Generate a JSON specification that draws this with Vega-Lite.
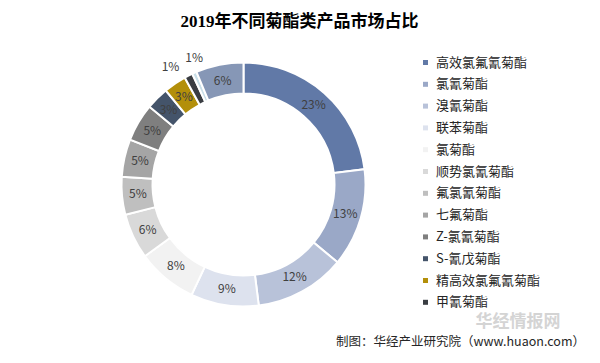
{
  "$schema": "https://vega.github.io/schema/vega-lite/v6.json",
  "width": 600,
  "height": 363,
  "autosize": {"type": "fit", "contains": "padding"},
  "padding": {"left": 5, "top": 5, "right": 6, "bottom": 5},
  "background": "white",
  "config": {"view": {"stroke": "#8c8c8c", "strokeWidth": 1.5}},
  "title": {
    "text": "2019年不同菊酯类产品市场占比",
    "font": "Liberation Serif, Noto Sans CJK SC",
    "fontSize": 17,
    "fontWeight": "bold",
    "color": "#000000",
    "anchor": "middle",
    "offset": -26
  },
  "data": {
    "values": [
      {"idx": 1, "name": "高效氯氟氰菊酯", "share": 0.23},
      {"idx": 2, "name": "氯氰菊酯", "share": 0.13},
      {"idx": 3, "name": "溴氰菊酯", "share": 0.12},
      {"idx": 4, "name": "联苯菊酯", "share": 0.09},
      {"idx": 5, "name": "氯菊酯", "share": 0.08},
      {"idx": 6, "name": "顺势氯氰菊酯", "share": 0.06},
      {"idx": 7, "name": "氟氯氰菊酯", "share": 0.05},
      {"idx": 8, "name": "七氟菊酯", "share": 0.05},
      {"idx": 9, "name": "Z-氯氰菊酯", "share": 0.05},
      {"idx": 10, "name": "S-氰戊菊酯", "share": 0.03},
      {"idx": 11, "name": "精高效氯氟氰菊酯", "share": 0.03},
      {"idx": 12, "name": "甲氰菊酯", "share": 0.011},
      {"idx": 13, "name": "醚菊酯", "share": 0.006},
      {"idx": 14, "name": "其他", "share": 0.063}
    ]
  },
  "layer": [
    {
      "mark": {
        "type": "arc",
        "innerRadius": 91,
        "outerRadius": 122,
        "stroke": "white",
        "strokeWidth": 2,
        "x": {"expr": "width/2-56"},
        "y": {"expr": "height/2+3"}
      },
      "encoding": {
        "theta": {"field": "share", "type": "quantitative", "stack": true, "scale": {"domain": [0, 1]}},
        "order": {"field": "idx", "type": "quantitative"},
        "color": {
          "field": "name",
          "type": "nominal",
          "sort": null,
          "scale": {
            "domain": ["高效氯氟氰菊酯", "氯氰菊酯", "溴氰菊酯", "联苯菊酯", "氯菊酯", "顺势氯氰菊酯", "氟氯氰菊酯", "七氟菊酯", "Z-氯氰菊酯", "S-氰戊菊酯", "精高效氯氟氰菊酯", "甲氰菊酯", "醚菊酯", "其他"],
            "range": ["#6179a7", "#9aa8c7", "#b8c2d9", "#dde2ee", "#f2f2f2", "#d9d9d9", "#bfbfbf", "#a5a5a5", "#7f7f7f", "#44546a", "#b38f0a", "#3a3d42", "#c9dfe8", "#8697b6"]
          },
          "legend": {
            "orient": "none",
            "legendX": 414,
            "legendY": 51,
            "title": null,
            "values": ["高效氯氟氰菊酯", "氯氰菊酯", "溴氰菊酯", "联苯菊酯", "氯菊酯", "顺势氯氰菊酯", "氟氯氰菊酯", "七氟菊酯", "Z-氯氰菊酯", "S-氰戊菊酯", "精高效氯氟氰菊酯", "甲氰菊酯"],
            "symbolType": "square",
            "symbolSize": 25,
            "symbolStrokeWidth": 0,
            "labelFont": "Noto Sans CJK SC",
            "labelFontSize": 13,
            "labelColor": "#262626",
            "labelOffset": 4,
            "rowPadding": 7.8,
            "padding": 0
          }
        }
      }
    },
    {
      "mark": {
        "type": "text",
        "radius": 106,
        "font": "Noto Sans CJK SC",
        "fontSize": 12,
        "color": "#404040",
        "x": {"expr": "width/2-56"},
        "y": {"expr": "height/2+3"}
      },
      "encoding": {
        "theta": {"field": "share", "type": "quantitative", "stack": true, "scale": {"domain": [0, 1]}},
        "order": {"field": "idx", "type": "quantitative"},
        "text": {"condition": {"test": "datum.share >= 0.02", "field": "share", "format": ".0%"}, "value": ""}
      }
    },
    {
      "transform": [
        {"stack": "share", "groupby": [], "sort": [{"field": "idx", "order": "ascending"}], "as": ["s0", "s1"]},
        {"filter": "datum.name === '甲氰菊酯'"}
      ],
      "mark": {
        "type": "text",
        "radius": 139,
        "font": "Noto Sans CJK SC",
        "fontSize": 12,
        "color": "#404040",
        "dx": -6,
        "dy": 4,
        "x": {"expr": "width/2-56"},
        "y": {"expr": "height/2+3"}
      },
      "encoding": {
        "theta": {"field": "s0", "type": "quantitative", "scale": {"domain": [0, 1]}},
        "text": {"field": "share", "format": ".0%"}
      }
    },
    {
      "transform": [
        {"stack": "share", "groupby": [], "sort": [{"field": "idx", "order": "ascending"}], "as": ["s0", "s1"]},
        {"filter": "datum.name === '醚菊酯'"}
      ],
      "mark": {
        "type": "text",
        "radius": 139,
        "font": "Noto Sans CJK SC",
        "fontSize": 12,
        "color": "#404040",
        "dx": 9,
        "dy": 0,
        "x": {"expr": "width/2-56"},
        "y": {"expr": "height/2+3"}
      },
      "encoding": {
        "theta": {"field": "s0", "type": "quantitative", "scale": {"domain": [0, 1]}},
        "text": {"field": "share", "format": ".0%"}
      }
    },
    {
      "data": {"values": [{"t": "华经情报网"}]},
      "mark": {
        "type": "text",
        "font": "Noto Sans CJK SC",
        "fontSize": 17,
        "fontWeight": "bold",
        "color": "#d4d4d4",
        "align": "center",
        "baseline": "middle",
        "x": {"expr": "width-76"},
        "y": {"expr": "height-36"}
      },
      "encoding": {"text": {"field": "t"}}
    },
    {
      "data": {"values": [{"t": "制图：华经产业研究院（www.huaon.com）"}]},
      "mark": {
        "type": "text",
        "font": "Noto Sans CJK SC",
        "fontSize": 12.5,
        "color": "#262626",
        "align": "right",
        "baseline": "middle",
        "x": {"expr": "width-9"},
        "y": {"expr": "height-16"}
      },
      "encoding": {"text": {"field": "t"}}
    }
  ]
}
